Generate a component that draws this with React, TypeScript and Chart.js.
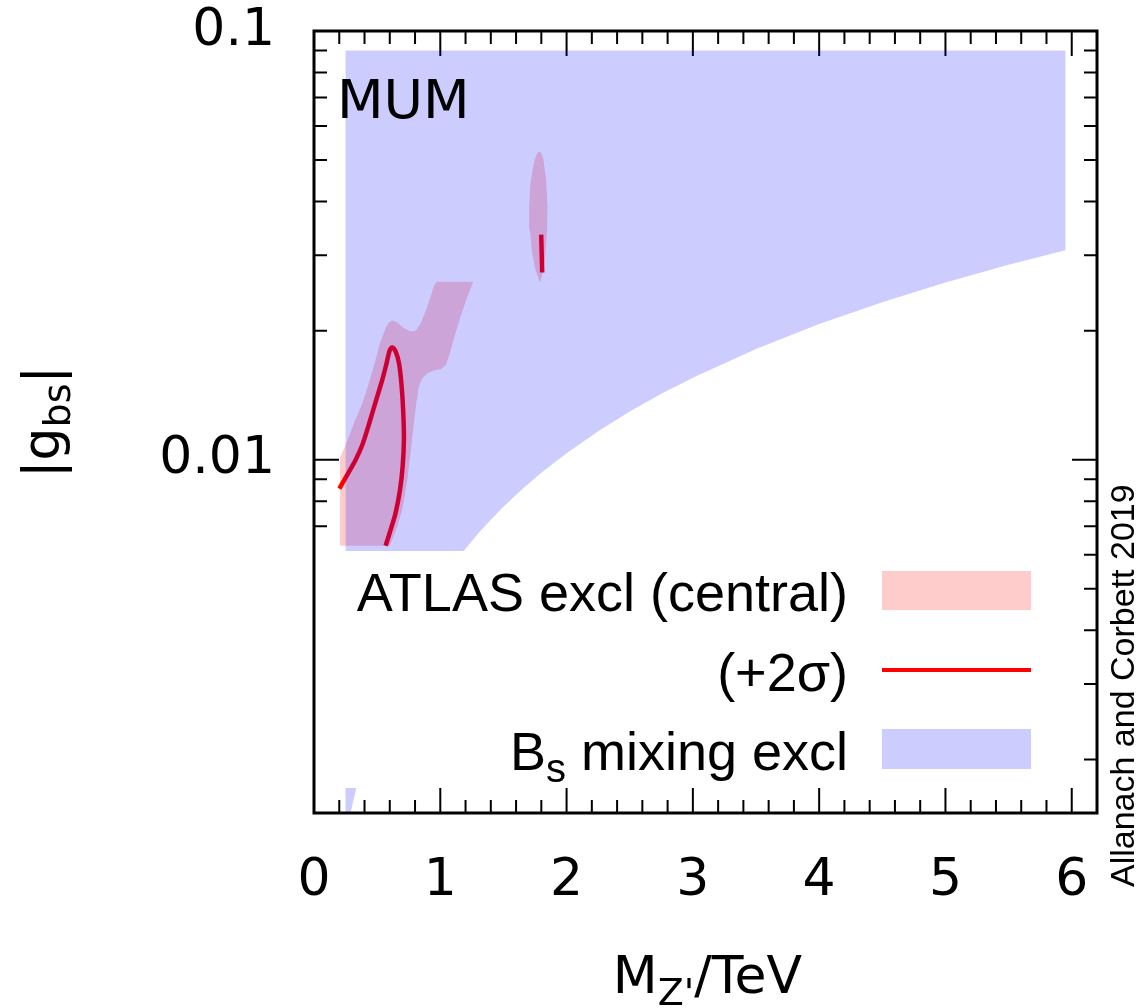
import React, { useEffect, useRef } from 'react';
import { Chart, registerables } from 'chart.js';

Chart.register(...registerables);

// ---- Data ----
// B_s mixing exclusion region (closed polygon): M_Z' [TeV], |g_bs|
const bsMixM = [0.25, 5.95, 5.95, 5.5, 5.0, 4.5, 4.0, 3.5, 3.0, 2.75, 2.5, 2.25, 2.0, 1.8, 1.65, 1.5, 1.4, 1.3, 1.2, 1.1, 1.0, 0.8, 0.6, 0.5, 0.4, 0.3, 0.29, 0.25];
const bsMixG = [0.09, 0.09, 0.03082, 0.02849, 0.0259, 0.02331, 0.02072, 0.01813, 0.01554, 0.01425, 0.01295, 0.01166, 0.01036, 0.00932, 0.00855, 0.00777, 0.00725, 0.00673, 0.0062, 0.0057, 0.0052, 0.00414, 0.0031, 0.0026, 0.00207, 0.00155, 0.0015, 0.0015];

// ATLAS exclusion (central), closed outline
const atlasM = [
  0.206, 0.206, 0.206, 0.232, 0.256, 0.317, 0.383, 0.435, 0.48, 0.522, 0.567, 0.594, 0.62, 0.66, 0.712, 0.765, 0.805, 0.844, 0.884, 0.923, 0.949, 0.971,
  1.788, 1.754, 1.728, 1.709, 1.704, 1.714, 1.741, 1.758, 1.775, 1.798, 1.815, 1.838, 1.849, 1.846, 1.833, 1.815, 1.793,
  1.261, 1.214, 1.161, 1.113, 1.076, 1.045, 1.008, 0.949, 0.897, 0.857, 0.831, 0.81, 0.791, 0.77, 0.739, 0.699, 0.65, 0.6,
];
const atlasG = [
  0.0063, 0.0523, 0.0101, 0.01052, 0.01094, 0.01218, 0.01355, 0.0151, 0.0168, 0.0187, 0.0203, 0.0209, 0.02113, 0.0209, 0.0203, 0.0199, 0.02, 0.0208, 0.0222, 0.024, 0.0254, 0.026,
  0.026, 0.0277, 0.0303, 0.0344, 0.039, 0.0442, 0.0492, 0.0512, 0.0523, 0.052, 0.0505, 0.045, 0.039, 0.0344, 0.0303, 0.0277, 0.026,
  0.026, 0.024, 0.0216, 0.0194, 0.01773, 0.01665, 0.01627, 0.01615, 0.0159, 0.0155, 0.01483, 0.01355, 0.01218, 0.01074, 0.00898, 0.00764, 0.00687, 0.0063,
];

// ATLAS exclusion (+2 sigma) curves
const sigmaMainM = [0.2006, 0.264, 0.33, 0.383, 0.422, 0.462, 0.501, 0.541, 0.575, 0.601, 0.62, 0.646, 0.673, 0.694, 0.707, 0.712, 0.702, 0.681, 0.646, 0.607, 0.567];
const sigmaMainG = [0.00856, 0.00923, 0.01, 0.01084, 0.01175, 0.01286, 0.01405, 0.01537, 0.0168, 0.01805, 0.01827, 0.01789, 0.0168, 0.01483, 0.01285, 0.01114, 0.00965, 0.00851, 0.00751, 0.00687, 0.0063];
const sigmaSmallM = [1.799, 1.807];
const sigmaSmallG = [0.0335, 0.02733];

// Axes
const xTickValues = [0, 1, 2, 3, 4, 5, 6];
const xTickLabels = ['0', '1', '2', '3', '4', '5', '6'];
const xMinorTicks = [0.2, 0.4, 0.6, 0.8, 1.2, 1.4, 1.6, 1.8, 2.2, 2.4, 2.6, 2.8, 3.2, 3.4, 3.6, 3.8, 4.2, 4.4, 4.6, 4.8, 5.2, 5.4, 5.6, 5.8];
const yTickValues = [0.01, 0.1];
const yTickLabels = ['0.01', '0.1'];
const yMinorTicks = [0.002, 0.003, 0.004, 0.005, 0.006, 0.007, 0.008, 0.009, 0.02, 0.03, 0.04, 0.05, 0.06, 0.07, 0.08, 0.09];

const legendLabels = ['ATLAS excl (central)', '(+2σ)', 'B', 's', ' mixing excl'];

const zip = (xs: number[], ys: number[]) => xs.map((x, i) => ({ x, y: ys[i] }));

type Part = { text: string; font: string; dy: number };

function richWidth(ctx: CanvasRenderingContext2D, parts: Part[]) {
  let w = 0;
  for (const p of parts) {
    ctx.font = p.font;
    w += ctx.measureText(p.text).width;
  }
  return w;
}

function drawRich(ctx: CanvasRenderingContext2D, parts: Part[], x: number, y: number, align: 'left' | 'center' | 'right') {
  const w = richWidth(ctx, parts);
  let cx = align === 'left' ? x : align === 'center' ? x - w / 2 : x - w;
  ctx.textAlign = 'left';
  ctx.textBaseline = 'alphabetic';
  for (const p of parts) {
    ctx.font = p.font;
    ctx.fillText(p.text, cx, y + p.dy);
    cx += ctx.measureText(p.text).width;
  }
}

const MAIN = '52px "DejaVu Sans"';
const SUB = '38px "DejaVu Sans"';
const LEG = '54px "Liberation Sans"';
const LEGSUB = '40px "Liberation Sans"';

const decorPlugin = {
  id: 'decor',
  beforeDatasetsDraw(chart: any) {
    const { ctx, chartArea, scales } = chart;
    const { left, right, top, bottom } = chartArea;
    const xs = scales.x;
    const ys = scales.y;
    ctx.save();
    ctx.strokeStyle = '#000';
    ctx.lineWidth = 2;
    ctx.beginPath();
    for (const v of xTickValues) {
      const p = xs.getPixelForValue(v);
      ctx.moveTo(p, bottom); ctx.lineTo(p, bottom - 25);
      ctx.moveTo(p, top); ctx.lineTo(p, top + 25);
    }
    for (const v of xMinorTicks) {
      const p = xs.getPixelForValue(v);
      ctx.moveTo(p, bottom); ctx.lineTo(p, bottom - 13);
      ctx.moveTo(p, top); ctx.lineTo(p, top + 13);
    }
    for (const v of yTickValues) {
      const p = ys.getPixelForValue(v);
      ctx.moveTo(left, p); ctx.lineTo(left + 25, p);
      ctx.moveTo(right, p); ctx.lineTo(right - 25, p);
    }
    for (const v of yMinorTicks) {
      const p = ys.getPixelForValue(v);
      ctx.moveTo(left, p); ctx.lineTo(left + 13, p);
      ctx.moveTo(right, p); ctx.lineTo(right - 13, p);
    }
    ctx.stroke();
    ctx.restore();
  },
  afterDatasetsDraw(chart: any) {
    const { ctx, chartArea } = chart;
    const { left, right, top, bottom } = chartArea;
    ctx.save();
    // opaque key box
    ctx.fillStyle = '#fff';
    ctx.fillRect(left, 551, 1062 - left, 788 - 551);

    // key entries
    ctx.fillStyle = '#000';
    ctx.font = LEG;
    ctx.textAlign = 'right';
    ctx.textBaseline = 'alphabetic';
    ctx.fillText(legendLabels[0], 848, 611);
    ctx.fillText(legendLabels[1], 848, 691);
    drawRich(ctx, [
      { text: legendLabels[2], font: LEG, dy: 0 },
      { text: legendLabels[3], font: LEGSUB, dy: 12 },
      { text: legendLabels[4], font: LEG, dy: 0 },
    ], 848, 770, 'right');

    ctx.fillStyle = 'rgba(255,0,0,0.2)';
    ctx.fillRect(882, 571, 149, 39);
    ctx.strokeStyle = '#ff0000';
    ctx.lineWidth = 4;
    ctx.beginPath();
    ctx.moveTo(882, 670); ctx.lineTo(1031, 670);
    ctx.stroke();
    ctx.fillStyle = 'rgba(0,0,255,0.2)';
    ctx.fillRect(882, 729, 149, 40);

    // frame
    ctx.strokeStyle = '#000';
    ctx.lineWidth = 3;
    ctx.strokeRect(left, top, right - left, bottom - top);

    // label inside plot
    ctx.fillStyle = '#000';
    ctx.font = '54px "DejaVu Sans"';
    ctx.textAlign = 'left';
    ctx.fillText('MUM', 337, 118);

    // x title
    drawRich(ctx, [
      { text: 'M', font: MAIN, dy: 0 },
      { text: "Z'", font: SUB, dy: 12 },
      { text: '/TeV', font: MAIN, dy: 0 },
    ], (left + right) / 2 + 2, 993, 'center');

    // y title
    ctx.save();
    ctx.translate(59, (top + bottom) / 2);
    ctx.rotate(-Math.PI / 2);
    drawRich(ctx, [
      { text: '|g', font: MAIN, dy: 0 },
      { text: 'bs', font: SUB, dy: 11 },
      { text: '|', font: MAIN, dy: 0 },
    ], 0, 0, 'center');
    ctx.restore();

    // credit
    ctx.save();
    ctx.translate(1134, 887);
    ctx.rotate(-Math.PI / 2);
    ctx.font = '34px "Liberation Sans"';
    ctx.textAlign = 'left';
    ctx.fillText('Allanach and Corbett 2019', 0, 0);
    ctx.restore();

    ctx.restore();
  },
};

export default function App() {
  const ref = useRef<HTMLCanvasElement>(null);
  useEffect(() => {
    if (!ref.current) return;
    const chart = new Chart(ref.current, {
      type: 'line',
      data: {
        datasets: [
          {
            label: 'B_s mixing excl',
            data: zip(bsMixM, bsMixG),
            fill: 'shape',
            backgroundColor: 'rgba(0,0,255,0.2)',
            borderColor: 'rgba(0,0,0,0)',
            borderWidth: 0,
            pointRadius: 0,
            tension: 0,
            order: 0,
          },
          {
            label: '(+2σ)',
            data: zip(sigmaMainM, sigmaMainG),
            fill: false,
            borderColor: '#ff0000',
            borderWidth: 4.5,
            pointRadius: 0,
            tension: 0.3,
            order: 1,
          },
          {
            label: '(+2σ) b',
            data: zip(sigmaSmallM, sigmaSmallG),
            fill: false,
            borderColor: '#ff0000',
            borderWidth: 4.5,
            pointRadius: 0,
            tension: 0,
            order: 1,
          },
          {
            label: 'ATLAS excl (central)',
            data: zip(atlasM, atlasG),
            fill: 'shape',
            backgroundColor: 'rgba(255,0,0,0.2)',
            borderColor: 'rgba(0,0,0,0)',
            borderWidth: 0,
            pointRadius: 0,
            tension: 0,
            order: 2,
          },
        ],
      },
      options: {
        responsive: false,
        animation: false,
        devicePixelRatio: 1,
        events: [],
        layout: { padding: { left: 0, top: 31, right: 45, bottom: 0 } },
        plugins: {
          legend: { display: false },
          tooltip: { enabled: false },
        },
        scales: {
          x: {
            type: 'linear',
            min: 0,
            max: 6.2,
            grid: { display: false, drawTicks: true, tickLength: 37 },
            border: { display: false },
            afterBuildTicks: (s: any) => {
              s.ticks = xTickValues.map((v) => ({ value: v }));
            },
            afterFit: (s: any) => {
              s.height = 195;
            },
            ticks: {
              autoSkip: false,
              maxRotation: 0,
              padding: 0,
              color: '#000',
              font: { family: 'DejaVu Sans', size: 52, lineHeight: 1.2 },
              callback: (v: any) => {
                const i = xTickValues.indexOf(Number(v));
                return i >= 0 ? xTickLabels[i] : '';
              },
            },
          },
          y: {
            type: 'logarithmic',
            min: 0.0015,
            max: 0.1,
            grid: { display: false, drawTicks: true, tickLength: 39 },
            border: { display: false },
            afterBuildTicks: (s: any) => {
              s.ticks = yTickValues.map((v) => ({ value: v }));
            },
            afterFit: (s: any) => {
              s.width = 314;
            },
            ticks: {
              autoSkip: false,
              padding: 0,
              color: '#000',
              font: { family: 'DejaVu Sans', size: 52, lineHeight: 1 },
              callback: (v: any) => {
                const i = yTickValues.findIndex((t) => Math.abs(t - Number(v)) < 1e-9);
                return i >= 0 ? yTickLabels[i] : '';
              },
            },
          },
        },
      } as any,
      plugins: [decorPlugin],
    });
    return () => chart.destroy();
  }, []);

  return (
    <div style={{ position: 'fixed', left: 0, top: 0, width: 1142, height: 1008, background: '#fff' }}>
      <canvas ref={ref} width={1142} height={1008} style={{ width: 1142, height: 1008, display: 'block' }} />
    </div>
  );
}
